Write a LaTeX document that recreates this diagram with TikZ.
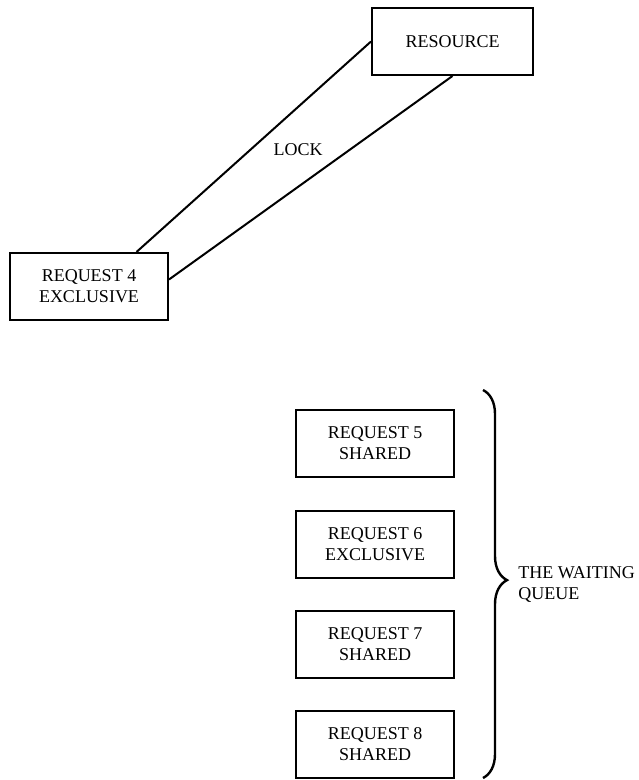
\documentclass[tikz,border=0pt]{standalone}
\usepackage{fontspec}
\setmainfont{Liberation Serif}
\usepackage{tikz}
\usetikzlibrary{positioning, calc, decorations.pathreplacing}

\begin{document}
\begin{tikzpicture}[
  x=0.5pt, y=-0.5pt,
  reqbox/.style={draw, line width=1pt, minimum width=79pt, minimum height=33.5pt, inner sep=0pt, align=center, font=\fontsize{9}{10.5}\selectfont},
  lbl/.style={inner sep=0pt, font=\fontsize{9}{10.5}\selectfont},
  lockline/.style={line width=1pt},
  brc/.style={line width=1.2pt, decorate, decoration={brace, amplitude=12pt, aspect=0.49}}
]
  \useasboundingbox (0,0) rectangle (638,780);

  % Resource and the holder of its lock
  \node[reqbox, minimum width=80.5pt] (res) at (452.5, 41.5) {RESOURCE};
  \node[reqbox] (req4) at (89, 286.5) {REQUEST 4\\EXCLUSIVE};

  \draw[lockline] (res.west) -- (req4.36);
  \draw[lockline] (res.south) -- (req4.5);
  \node[lbl] (lock) at (298, 150) {LOCK};

  % Waiting requests
  \node[reqbox] (req5) at (375, 443.5) {REQUEST 5\\SHARED};
  \node[reqbox] (req6) at (375, 544.5) {REQUEST 6\\EXCLUSIVE};
  \node[reqbox] (req7) at (375, 644.5) {REQUEST 7\\SHARED};
  \node[reqbox] (req8) at (375, 744.5) {REQUEST 8\\SHARED};

  % Queue brace
  \coordinate (qtop) at (483, 390);
  \coordinate (qbot) at (483, 778);
  \draw[brc] (qtop) -- (qbot);
  \node[lbl, anchor=west, align=left] (queue) at (518, 584) {THE WAITING\\QUEUE};
\end{tikzpicture}
\end{document}
